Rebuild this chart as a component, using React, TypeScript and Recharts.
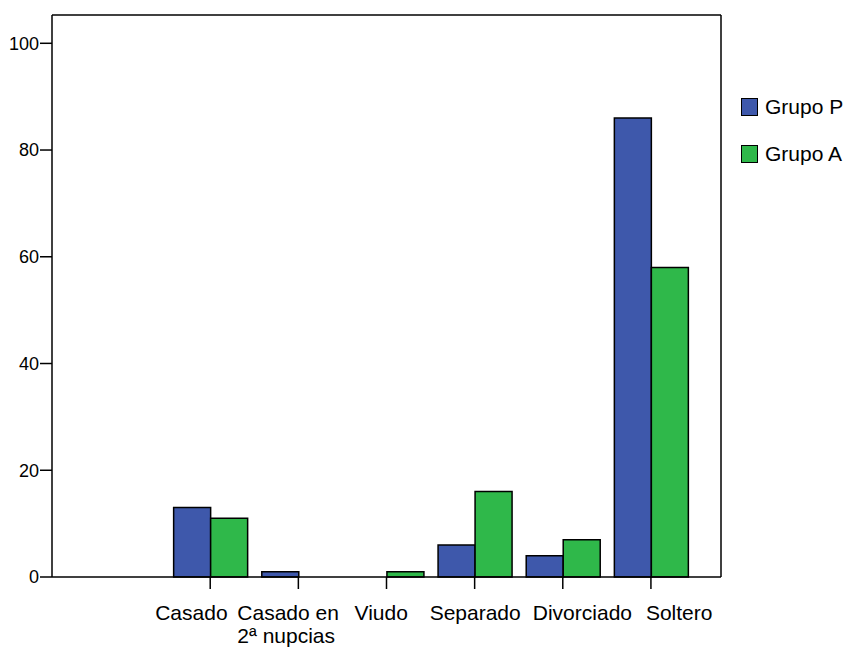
import { BarChart, Bar, XAxis, YAxis, Legend, CartesianGrid } from 'recharts';

const categories = ['', 'Casado', 'Casado en\n2ª nupcias', 'Viudo', 'Separado', 'Divorciado', 'Soltero'];
const grupoP = [0, 13, 1, 0, 6, 4, 86];
const grupoA = [0, 11, 0, 1, 16, 7, 58];
const yTicks = [0, 20, 40, 60, 80, 100];
const seriesNames = ['Grupo P', 'Grupo A'];

// left edge of each category label relative to its tick (the original spreads them out)
const labelStart: Record<string, number> = {
  Casado: -55,
  'Casado en\n2ª nupcias': -61,
  Viudo: -32,
  Separado: -45,
  Divorciado: -30,
  Soltero: -5,
};

const data = categories.map((name, i) => ({ name, p: grupoP[i], a: grupoA[i] }));

const FONT = '"Liberation Sans", Arial, sans-serif';
const BLUE = '#3e58ab';
const GREEN = '#2fb84a';

function CategoryTick(props: any) {
  const { x, y, payload } = props;
  const label: string = payload.value;
  if (!label) return null;
  const lines = label.split('\n');
  const lx = x + (labelStart[label] ?? 0);
  return (
    <g>
      <line x1={x} y1={y} x2={x} y2={y + 12} stroke="#000" strokeWidth={1.5} />
      <text y={y + 43} textAnchor="start" fontSize={21} fontFamily={FONT} fill="#000">
        {lines.map((l, i) => (
          <tspan key={i} x={lx} dy={i === 0 ? 0 : 22.5}>{l}</tspan>
        ))}
      </text>
    </g>
  );
}

function LegendBox(props: any) {
  const items = [...(props.payload || [])].sort(
    (a: any, b: any) => seriesNames.indexOf(a.value) - seriesNames.indexOf(b.value)
  );
  return (
    <div style={{ fontFamily: FONT, fontSize: 21, color: '#000' }}>
      {items.map((it: any) => (
        <div key={it.value} style={{ display: 'flex', alignItems: 'center', height: 47 }}>
          <span
            style={{
              display: 'inline-block',
              width: 15,
              height: 16,
              background: it.color,
              border: '1.5px solid #000',
              marginRight: 7,
            }}
          />
          <span>{it.value}</span>
        </div>
      ))}
    </div>
  );
}

export default function App() {
  return (
    <div style={{ position: 'absolute', left: 0, top: 0, background: '#fff' }}>
      <BarChart
        width={847}
        height={649}
        data={data}
        margin={{ top: 15, right: 126, bottom: 0, left: 0 }}
        barCategoryGap={7.5}
        barGap={0}
      >
        {/* top and right edges of the frame */}
        <CartesianGrid
          stroke="#000"
          strokeWidth={1.5}
          horizontalCoordinatesGenerator={({ offset }: any) => [offset.top]}
          verticalCoordinatesGenerator={({ offset }: any) => [offset.left + offset.width]}
        />
        <XAxis
          dataKey="name"
          height={72}
          padding={{ left: 26, right: 26 }}
          axisLine={{ stroke: '#000', strokeWidth: 1.5 }}
          tickLine={false}
          tickSize={0}
          tickMargin={0}
          interval={0}
          tick={<CategoryTick />}
        />
        <YAxis
          width={52}
          domain={[0, 105.3]}
          ticks={yTicks}
          tickSize={12}
          tickMargin={1}
          axisLine={{ stroke: '#000', strokeWidth: 1.5 }}
          tickLine={{ stroke: '#000', strokeWidth: 1.5 }}
          tick={{ fill: '#000', fontSize: 18, fontFamily: FONT }}
        />
        <Legend
          layout="vertical"
          align="center"
          verticalAlign="middle"
          content={<LegendBox />}
          wrapperStyle={{ left: 741, top: 83, width: 106 }}
        />
        <Bar dataKey="p" name={seriesNames[0]} fill={BLUE} stroke="#000" strokeWidth={1.5} isAnimationActive={false} />
        <Bar dataKey="a" name={seriesNames[1]} fill={GREEN} stroke="#000" strokeWidth={1.5} isAnimationActive={false} />
      </BarChart>
    </div>
  );
}
